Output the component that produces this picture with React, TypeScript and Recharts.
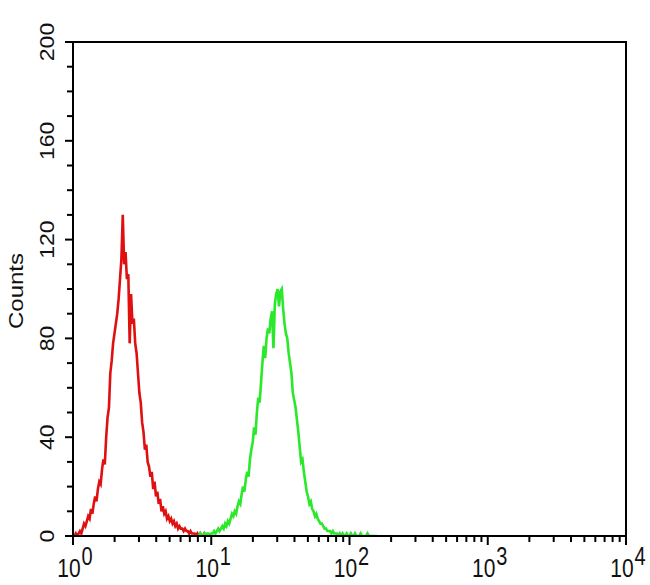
import { LineChart, Line, XAxis, YAxis, ReferenceArea } from 'recharts'

// histogram channels, log10 spacing
const STEP = 0.01

const RED_START = 0
const RED_COUNTS = [
  0, 0, 1, 0, 1, 2, 1, 3, 5, 4,
  6, 8, 7, 11, 9, 13, 16, 14, 19, 22,
  21, 27, 31, 29, 40, 48, 52, 66, 71, 78,
  82, 86, 90, 96, 104, 112, 130, 110, 115, 104,
  106, 78, 98, 86, 88, 78, 74, 66, 58, 54,
  46, 42, 35, 37, 30, 28, 24, 26, 19, 22,
  16, 18, 13, 15, 10, 12, 9, 10, 7, 8,
  6, 7, 5, 6, 4, 5, 3, 4, 3, 3,
  2, 3, 2, 2, 1, 2, 1, 1, 1, 0,
  1, 0, 1, 0, 0, 1, 0, 0, 0, 0,
]

const GREEN_START = 0.9
const GREEN_COUNTS = [
  0, 0, 1, 0, 0, 1, 0, 1, 1, 0,
  1, 1, 2, 1, 2, 3, 2, 3, 4, 3,
  5, 4, 6, 5, 7, 9, 8, 10, 9, 12,
  14, 13, 17, 20, 18, 23, 26, 24, 31, 35,
  38, 44, 41, 50, 56, 54, 62, 70, 77, 72,
  80, 84, 82, 88, 91, 76, 94, 98, 100, 93,
  99, 100, 92, 86, 82, 80, 74, 70, 66, 58,
  55, 52, 47, 42, 36, 30, 31, 26, 22, 18,
  16, 13, 14, 11, 10, 8, 9, 7, 6, 5,
  5, 4, 3, 3, 2, 2, 2, 1, 2, 1,
  1, 1, 0, 1, 0, 1, 0, 0, 1, 0,
  0, 1, 0, 0, 1, 0, 0, 0, 1, 0,
  0, 0, 0, 1, 0, 0, 0, 0, 0, 0,
  0,
]

const DECADES = [0, 1, 2, 3, 4]
const MINOR_STEPS = [2, 3, 4, 5, 6, 7, 8, 9]
const Y_TICKS = [0, 10, 20, 30, 40, 50, 60, 70, 80, 90, 100, 110, 120, 130, 140, 150, 160, 170, 180, 190, 200]
const Y_LABELS = [0, 40, 80, 120, 160, 200]

const FONT = '"Liberation Sans", Arial, sans-serif'

const toSeries = (start: number, counts: number[]) =>
  counts.map((c, i) => ({ x: +(start + i * STEP).toFixed(2), y: c }))

const redData = toSeries(RED_START, RED_COUNTS)
const greenData = toSeries(GREEN_START, GREEN_COUNTS)

const xTicks = DECADES.flatMap((d) =>
  d < 4 ? [d, ...MINOR_STEPS.map((m) => d + Math.log10(m))] : [d]
)

function XTick({ x, y, payload }: any) {
  const v = payload.value
  const major = Math.abs(v - Math.round(v)) < 1e-6
  return (
    <g>
      <line x1={x} x2={x} y1={y} y2={y + (major ? 9 : 6)} stroke="#000" strokeWidth={2} />
      {major && (
        <text
          transform={`translate(${x + 2},${y + 41}) scale(1,1.25)`}
          textAnchor="middle"
          fontFamily={FONT}
          fill="#111"
        >
          <tspan fontSize={21}>10</tspan>
          <tspan fontSize={20} dx={1} dy={-10}>{Math.round(v)}</tspan>
        </text>
      )}
    </g>
  )
}

function YTick({ x, y, payload }: any) {
  const v = payload.value
  const labeled = Y_LABELS.includes(v)
  return (
    <g>
      <line x1={x} x2={x - (labeled ? 8 : 6)} y1={y} y2={y} stroke="#000" strokeWidth={2} />
      {labeled && (
        <text
          transform={`translate(${x - 19},${y}) rotate(-90) scale(1.1,1)`}
          textAnchor="middle"
          fontFamily={FONT}
          fontSize={21}
          fill="#111"
        >
          {v}
        </text>
      )}
    </g>
  )
}

function CountsLabel({ viewBox }: any) {
  const cy = viewBox.y + viewBox.height / 2 + 2
  return (
    <text
      transform={`translate(${viewBox.x + 23},${cy}) rotate(-90) scale(1.2,1)`}
      textAnchor="middle"
      fontFamily={FONT}
      fontSize={20}
      fill="#111"
    >
      Counts
    </text>
  )
}

export default function App() {
  return (
    <div style={{ position: 'absolute', left: 0, top: 0, background: '#fff' }}>
      <LineChart width={650} height={585} margin={{ top: 42, right: 24, bottom: 0, left: 0 }}>
        <XAxis
          type="number"
          dataKey="x"
          domain={[0, 4]}
          ticks={xTicks}
          interval={0}
          height={49}
          tickSize={0}
          tickMargin={0}
          tickLine={false}
          axisLine={{ stroke: '#000', strokeWidth: 2 }}
          tick={<XTick />}
          allowDataOverflow
        />
        <YAxis
          type="number"
          domain={[0, 200]}
          ticks={Y_TICKS}
          interval={0}
          width={73}
          tickSize={0}
          tickMargin={0}
          tickLine={false}
          axisLine={{ stroke: '#000', strokeWidth: 2 }}
          tick={<YTick />}
          label={{ content: <CountsLabel /> }}
          allowDataOverflow
        />
        <ReferenceArea x1={0} x2={4} y1={0} y2={200} fill="none" stroke="#000" strokeWidth={2} ifOverflow="visible" />
        <Line
          data={redData}
          dataKey="y"
          type="linear"
          stroke="#e01010"
          strokeWidth={2.6}
          strokeLinejoin="miter"
          dot={false}
          isAnimationActive={false}
        />
        <Line
          data={greenData}
          dataKey="y"
          type="linear"
          stroke="#2ae82a"
          strokeWidth={2.6}
          strokeLinejoin="miter"
          dot={false}
          isAnimationActive={false}
        />
      </LineChart>
    </div>
  )
}
